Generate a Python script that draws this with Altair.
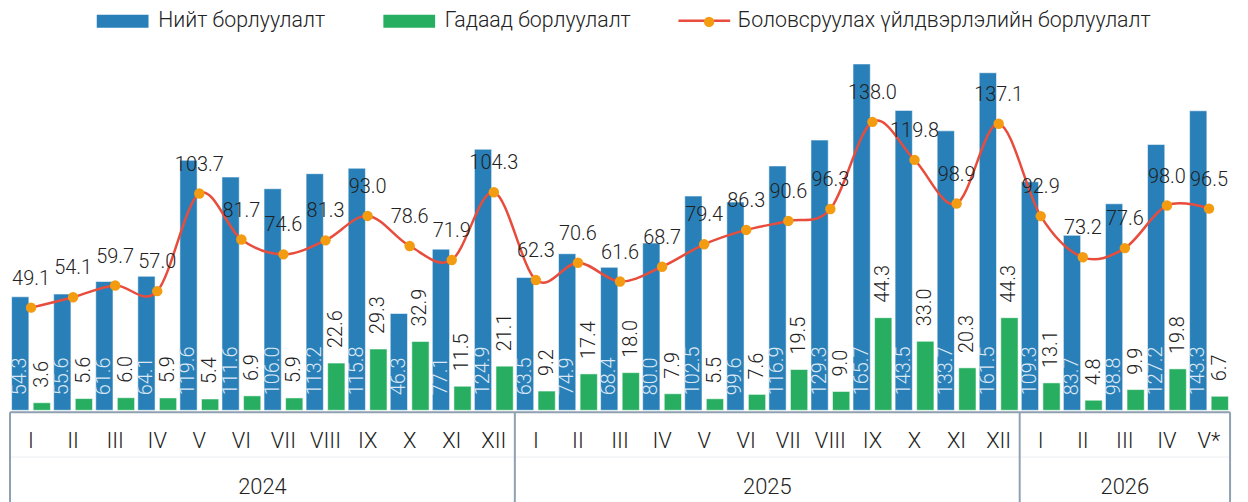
import altair as alt
import pandas as pd

# ---------------- data ----------------
months = ["I", "II", "III", "IV", "V", "VI", "VII", "VIII", "IX", "X", "XI", "XII",
          "I", "II", "III", "IV", "V", "VI", "VII", "VIII", "IX", "X", "XI", "XII",
          "I", "II", "III", "IV", "V*"]
year_names = ["2024", "2025", "2026"]
year_counts = [12, 12, 5]

total_sales = [54.3, 55.6, 61.6, 64.1, 119.6, 111.6, 106.0, 113.2, 115.8, 46.3, 77.1, 124.9,
               63.5, 74.9, 68.4, 80.0, 102.5, 99.6, 116.9, 129.3, 165.7, 143.5, 133.7, 161.5,
               109.3, 83.7, 98.8, 127.2, 143.3]
foreign_sales = [3.6, 5.6, 6.0, 5.9, 5.4, 6.9, 5.9, 22.6, 29.3, 32.9, 11.5, 21.1,
                 9.2, 17.4, 18.0, 7.9, 5.5, 7.6, 19.5, 9.0, 44.3, 33.0, 20.3, 44.3,
                 13.1, 4.8, 9.9, 19.8, 6.7]
manuf_sales = [49.1, 54.1, 59.7, 57.0, 103.7, 81.7, 74.6, 81.3, 93.0, 78.6, 71.9, 104.3,
               62.3, 70.6, 61.6, 68.7, 79.4, 86.3, 90.6, 96.3, 138.0, 119.8, 98.9, 137.1,
               92.9, 73.2, 77.6, 98.0, 96.5]

S_TOTAL = "Нийт борлуулалт"
S_FOREIGN = "Гадаад борлуулалт"
S_LINE = "Боловсруулах үйлдвэрлэлийн борлуулалт"
S_DOT = "marker"

BLUE = "#2980b9"
GREEN = "#27ae60"
RED = "#e74c3c"
ORANGE = "#f39c12"
BOX = "#8fa0b0"
TXT = "#222222"
FONT = "Roboto"
FW = 300

n = len(months)
idx = list(range(n))
W, H = 1226, 357

base = pd.DataFrame({"idx": idx, "month": months, "line": manuf_sales,
                     "lname": S_LINE, "pname": S_DOT})
bars = pd.concat([
    pd.DataFrame({"idx": idx, "series": S_TOTAL, "value": total_sales}),
    pd.DataFrame({"idx": idx, "series": S_FOREIGN, "value": foreign_sales}),
], ignore_index=True)

# year label positions (middle of each year block)
yr_even, yr_odd, bounds = [], [], []
start = 0
for name, cnt in zip(year_names, year_counts):
    bounds.append({"idx": start})
    if cnt % 2 == 0:
        yr_even.append({"idx": start + cnt // 2, "year": name})
    else:
        yr_odd.append({"idx": start + cnt // 2, "year": name})
    start += cnt
end_df = pd.DataFrame({"idx": [n - 1]})

# ---------------- encodings ----------------
xscale = alt.Scale(domain=idx, paddingInner=0, paddingOuter=0, round=False)
x_enc = alt.X("idx:O", axis=None, scale=xscale)
yscale = alt.Scale(domain=[0, 170], nice=False, zero=True)
xo = alt.XOffset("series:N", scale=alt.Scale(domain=[S_TOTAL, S_FOREIGN], round=False,
                                              paddingInner=0.2, paddingOuter=0.075))

leg_common = dict(orient="none", title=None, labelFont=FONT, labelFontSize=21.4,
                  labelFontWeight=FW, labelColor=TXT, padding=0, labelLimit=600)

# legend symbols: wide shapes drawn with a small nominal size (13px row height)
RECT_PATH = "M-4,-1L4,-1L4,1L-4,1Z"
LINE_PATH = "M-4,0L4,0"

bar_layer = alt.Chart(bars).mark_bar(stroke="white", strokeOpacity=0.55, strokeWidth=1).encode(
    x=x_enc, xOffset=xo,
    y=alt.Y("value:Q", scale=yscale, axis=None),
    color=alt.Color("series:N",
                    scale=alt.Scale(domain=[S_TOTAL, S_FOREIGN], range=[BLUE, GREEN]),
                    legend=alt.Legend(legendX=102.5, legendY=-45, direction="horizontal",
                                      symbolType=RECT_PATH, symbolSize=169,
                                      symbolStrokeWidth=0, labelOffset=25,
                                      columnPadding=57, **leg_common)),
)

blue_lbl = alt.Chart(bars).transform_filter(alt.datum.series == S_TOTAL).mark_text(
    angle=270, align="left", baseline="middle", dx=15, fontSize=20, font=FONT,
    fontWeight=FW, color="#dbe8f4").encode(
    x=x_enc, xOffset=xo, y=alt.value(H), text=alt.Text("value:Q", format=".1f"))

green_lbl = alt.Chart(bars).transform_filter(alt.datum.series == S_FOREIGN).mark_text(
    angle=270, align="left", baseline="middle", dx=15, fontSize=20, font=FONT,
    fontWeight=FW, color=TXT).encode(
    x=x_enc, xOffset=xo, y=alt.Y("value:Q", scale=yscale, axis=None),
    text=alt.Text("value:Q", format=".1f"))

line_layer = alt.Chart(base).mark_line(interpolate="cardinal", strokeWidth=2.5).encode(
    x=x_enc, y=alt.Y("line:Q", scale=yscale, axis=None),
    stroke=alt.Stroke("lname:N", scale=alt.Scale(domain=[S_LINE], range=[RED]),
                      legend=alt.Legend(legendX=687, legendY=-45, symbolType=LINE_PATH,
                                        symbolSize=169, symbolStrokeWidth=2.5,
                                        labelOffset=23, **leg_common)),
)

pt_layer = alt.Chart(base).mark_circle(size=110, opacity=1).encode(
    x=x_enc, y=alt.Y("line:Q", scale=yscale, axis=None),
    fill=alt.Fill("pname:N", scale=alt.Scale(domain=[S_DOT], range=[ORANGE]),
                  legend=alt.Legend(legendX=691.8, legendY=-44, symbolType="circle",
                                    symbolSize=110, symbolStrokeWidth=0, labelExpr="''",
                                    labelOffset=6, **leg_common)),
)

line_lbl = alt.Chart(base).mark_text(dy=-23, baseline="alphabetic", align="center",
                                     fontSize=20, font=FONT, fontWeight=FW, color=TXT).encode(
    x=x_enc, y=alt.Y("line:Q", scale=yscale, axis=None),
    text=alt.Text("line:Q", format=".1f"))

month_lbl = alt.Chart(base).mark_text(fontSize=22, font=FONT, fontWeight=FW, color=TXT,
                                      baseline="middle").encode(
    x=x_enc, y=alt.value(H + 31), text="month:N")

year_even = alt.Chart(pd.DataFrame(yr_even)).mark_text(
    fontSize=22, font=FONT, fontWeight=FW, color=TXT, baseline="middle").encode(
    x=alt.X("idx:O", axis=None, scale=xscale, bandPosition=0), y=alt.value(H + 77), text="year:N")
year_odd = alt.Chart(pd.DataFrame(yr_odd)).mark_text(
    fontSize=22, font=FONT, fontWeight=FW, color=TXT, baseline="middle").encode(
    x=alt.X("idx:O", axis=None, scale=xscale, bandPosition=0.5), y=alt.value(H + 77), text="year:N")

sep_rules = alt.Chart(pd.DataFrame(bounds)).mark_rule(color=BOX, strokeWidth=2).encode(
    x=alt.X("idx:O", axis=None, scale=xscale, bandPosition=0),
    y=alt.value(H + 2), y2=alt.value(H + 110))
end_rule = alt.Chart(end_df).mark_rule(color=BOX, strokeWidth=2).encode(
    x=alt.X("idx:O", axis=None, scale=xscale, bandPosition=1),
    y=alt.value(H + 2), y2=alt.value(H + 110))
one = pd.DataFrame({"a": [0]})
top_line = alt.Chart(one).mark_rule(color=BOX, strokeWidth=2).encode(
    x=alt.value(0), x2=alt.value(W), y=alt.value(H + 2))
mid_line = alt.Chart(one).mark_rule(color="#e9edf0", strokeWidth=1).encode(
    x=alt.value(0), x2=alt.value(W), y=alt.value(H + 47))

chart = alt.layer(
    bar_layer, blue_lbl, green_lbl, line_layer, pt_layer, line_lbl,
    mid_line, top_line, sep_rules, end_rule, month_lbl, year_even, year_odd,
).properties(
    width=W, height=H,
    autosize=alt.AutoSizeParams(type="none"),
    padding={"left": 2, "top": 46, "right": 10, "bottom": 100},
).configure_view(stroke=None)

chart.save("out.html", embed_options={"renderer": "svg", "actions": False})
